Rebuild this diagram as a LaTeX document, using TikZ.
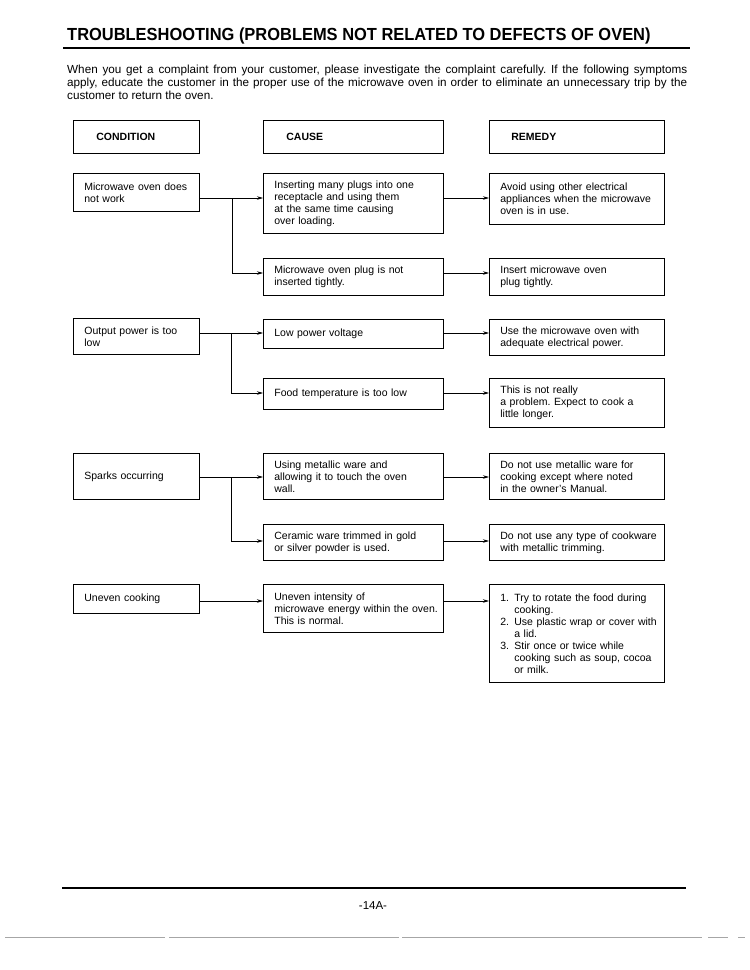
\documentclass[tikz,border=0pt]{standalone}
\usepackage{fontspec}
\setmainfont{Liberation Sans}
\newfontfamily\titlefont[FakeStretch=0.94]{Liberation Sans}
\usetikzlibrary{arrows.meta,positioning}
\frenchspacing

\begin{document}
\begin{tikzpicture}[x=1pt,y=-1pt]
\tikzstyle{box}=[draw=black,line width=0.8pt,anchor=north west,inner xsep=11pt,inner ysep=0pt,align=left,font=\fontsize{10.5}{12}\selectfont]
\tikzstyle{condbox}=[box,text width=104pt]
\tikzstyle{causebox}=[box,text width=158pt]
\tikzstyle{remedybox}=[box,text width=153pt]
\tikzstyle{headbox}=[box,minimum height=33pt,font=\bfseries\fontsize{10.5}{12}\selectfont]
\tikzstyle{arrow}=[line width=0.7pt,-{Stealth[length=6pt,width=3.5pt]}]
\tikzstyle{line}=[line width=0.7pt]
\useasboundingbox (0,0) rectangle (750,970);

\node [anchor=base west,inner sep=0pt,font=\titlefont\bfseries\fontsize{17.5}{20}\selectfont] at (67,40) (title) {TROUBLESHOOTING (PROBLEMS NOT RELATED TO DEFECTS OF OVEN)};
\draw [line width=2pt] (63,47.5) -- (690,47.5);
\node [anchor=north west,inner sep=0pt,text width=620pt,align=justify,font=\fontsize{11.7}{13}\selectfont] at (67,65) (intro) {When you get a complaint from your customer, please investigate the complaint carefully. If the following symptoms\linebreak apply, educate the customer in the proper use of the microwave oven in order to eliminate an unnecessary trip by the\linebreak customer to return the oven.};

\node [headbox,text width=104pt] at (73,120) (hcond) {\hspace*{12pt}CONDITION};
\node [headbox,text width=158pt] at (263,120) (hcause) {\hspace*{12pt}CAUSE};
\node [headbox,text width=153pt] at (489,120) (hremedy) {\hspace*{11pt}REMEDY};

\node [condbox,minimum height=38pt] at (73,173) (cond1) {Microwave oven does\\not work};
\node [causebox,minimum height=60pt] at (263,173) (cause1a) {Inserting many plugs into one\\receptacle and using them\\at the same time causing\\over loading.};
\node [remedybox,minimum height=51pt] at (489,173) (remedy1a) {Avoid using other electrical\\\mbox{appliances when the microwave}\\oven is in use.};
\node [causebox,minimum height=37pt] at (263,258) (cause1b) {Microwave oven plug is not\\inserted tightly.};
\node [remedybox,minimum height=37pt] at (489,258) (remedy1b) {Insert microwave oven\\plug tightly.};

\node [condbox,minimum height=36pt] at (73,318) (cond2) {Output power is too\\low};
\node [causebox,minimum height=29pt] at (263,319) (cause2a) {Low power voltage};
\node [remedybox,minimum height=36pt] at (489,319) (remedy2a) {Use the microwave oven with\\adequate electrical power.};
\node [causebox,minimum height=31pt] at (263,378) (cause2b) {Food temperature is too low};
\node [remedybox,minimum height=49pt] at (489,378) (remedy2b) {This is not really\\a problem. Expect to cook a\\little longer.};

\node [condbox,minimum height=46pt] at (73,453) (cond3) {Sparks occurring};
\node [causebox,minimum height=46pt] at (263,453) (cause3a) {Using metallic ware and\\allowing it to touch the oven\\wall.};
\node [remedybox,minimum height=46pt] at (489,453) (remedy3a) {Do not use metallic ware for\\cooking except where noted\\in the owner's Manual.};
\node [causebox,minimum height=36pt] at (263,524) (cause3b) {Ceramic ware trimmed in gold\\or silver powder is used.};
\node [remedybox,minimum height=36pt] at (489,524) (remedy3b) {\mbox{Do not use any type of cookware}\\with metallic trimming.};

\node [condbox,minimum height=29pt] at (73,584) (cond4) {Uneven cooking};
\node [causebox,minimum height=48pt] at (263,584) (cause4) {Uneven intensity of\\\mbox{microwave energy within the oven.}\\This is normal.};
\node [remedybox,minimum height=98pt] at (489,584) (remedy4) {\mbox{\makebox[14pt][l]{1.}Try to rotate the food during}\\\hspace*{14pt}cooking.\\\mbox{\makebox[14pt][l]{2.}Use plastic wrap or cover with}\\\hspace*{14pt}a lid.\\\makebox[14pt][l]{3.}Stir once or twice while\\\mbox{\hspace*{14pt}cooking such as soup, cocoa}\\\hspace*{14pt}or milk.};

\coordinate (j1) at (232,198);
\coordinate (k1) at (232,273);
\coordinate (j2) at (231,333);
\coordinate (k2) at (231,393);
\coordinate (j3) at (231,477);
\coordinate (k3) at (231,541);
\coordinate (j4) at (231,601);

\draw [line] (cond1.east |- j1) -- (j1);
\draw [arrow] (j1) -- (j1 -| cause1a.west);
\draw [arrow] (j1) -- (k1) -- (k1 -| cause1b.west);
\draw [arrow] (cause1a.east |- j1) -- (j1 -| remedy1a.west);
\draw [arrow] (cause1b.east |- k1) -- (k1 -| remedy1b.west);

\draw [line] (cond2.east |- j2) -- (j2);
\draw [arrow] (j2) -- (j2 -| cause2a.west);
\draw [arrow] (j2) -- (k2) -- (k2 -| cause2b.west);
\draw [arrow] (cause2a.east |- j2) -- (j2 -| remedy2a.west);
\draw [arrow] (cause2b.east |- k2) -- (k2 -| remedy2b.west);

\draw [line] (cond3.east |- j3) -- (j3);
\draw [arrow] (j3) -- (j3 -| cause3a.west);
\draw [arrow] (j3) -- (k3) -- (k3 -| cause3b.west);
\draw [arrow] (cause3a.east |- j3) -- (j3 -| remedy3a.west);
\draw [arrow] (cause3b.east |- k3) -- (k3 -| remedy3b.west);

\draw [arrow] (cond4.east |- j4) -- (j4 -| cause4.west);
\draw [arrow] (cause4.east |- j4) -- (j4 -| remedy4.west);

\draw [line width=1.5pt] (62,888) -- (686,888);
\node [font=\fontsize{11.5}{13}\selectfont] at (373,906) (page) {-14A-};
\draw [gray!70,line width=0.6pt,dash pattern=on 160pt off 4pt on 230pt off 3pt on 300pt off 6pt on 20pt off 10pt] (5,937) -- (745,937);
\end{tikzpicture}
\end{document}
